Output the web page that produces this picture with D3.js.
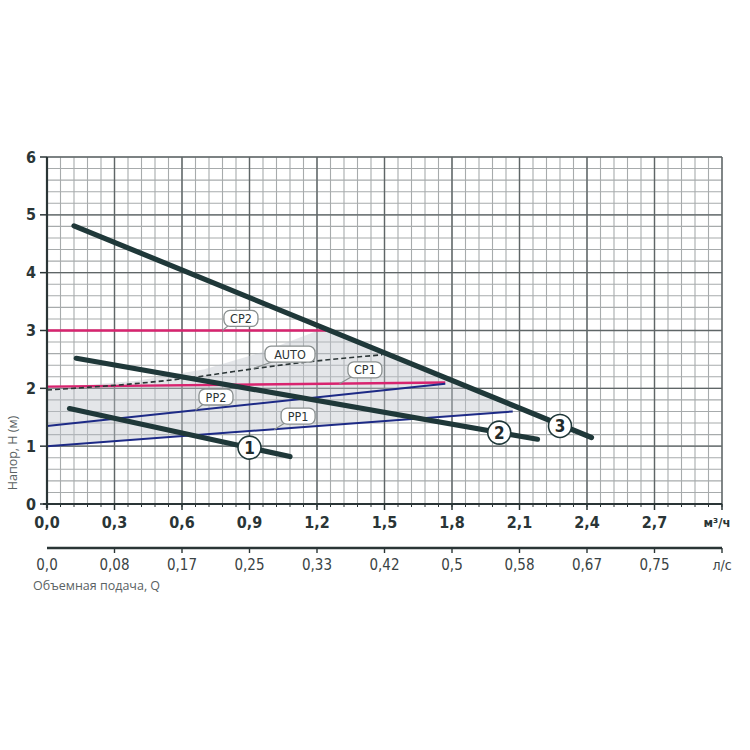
<!DOCTYPE html>
<html>
<head>
<meta charset="utf-8">
<script src="https://cdn.jsdelivr.net/npm/d3@7"></script>
<style>
  body { margin: 0; background: #fff; }
  svg { display: block; }
  .cond { font-family: "Liberation Sans Narrow", "DejaVu Sans Condensed", "Roboto", sans-serif; }
</style>
</head>
<body>
<div id="chart"></div>
<script>
// data: flow Q (m3/h) vs head H (m)
var qTicks = [0, 0.3, 0.6, 0.9, 1.2, 1.5, 1.8, 2.1, 2.4, 2.7];
var qLabels = ['0,0', '0,3', '0,6', '0,9', '1,2', '1,5', '1,8', '2,1', '2,4', '2,7'];
var lsLabels = ['0,0', '0,08', '0,17', '0,25', '0,33', '0,42', '0,5', '0,58', '0,67', '0,75'];
var hTicks = [0, 1, 2, 3, 4, 5, 6];

var curve1 = [[0.10, 1.65], [1.08, 0.82]];
var curve2 = [[0.13, 2.52], [2.18, 1.12]];
var curve3 = [[0.12, 4.81], [2.42, 1.15]];
var cp2 = [[0, 3.0], [1.24, 3.0]];
var cp1 = [[0, 2.03], [1.77, 2.1]];
var pp2 = [[0, 1.35], [1.77, 2.08]];
var pp1 = [[0, 1.0], [2.07, 1.6]];
var auto = [[0, 1.97], [0.67, 2.2], [0.83, 2.29], [1.12, 2.44], [1.49, 2.58]];
var zoneTop = [[0, 2.0], [0.4, 2.13], [0.7, 2.33], [0.95, 2.62], [1.24, 3.05]];
var zoneRight = [[1.24, 3.05], [2.07, 1.68]];

var tags = [
  { text: 'CP2', q: 0.862, h: 3.21, lq: 0.78, lh: 3.0 },
  { text: 'AUTO', q: 1.08, h: 2.59, lq: 0.92, lh: 2.35 },
  { text: 'CP1', q: 1.413, h: 2.32, lq: 1.30, lh: 2.08 },
  { text: 'PP2', q: 0.751, h: 1.85, lq: 0.66, lh: 1.62 },
  { text: 'PP1', q: 1.116, h: 1.52, lq: 1.01, lh: 1.29 }
];
var numbers = [
  { text: '1', q: 0.90, h: 0.975 },
  { text: '2', q: 2.01, h: 1.235 },
  { text: '3', q: 2.28, h: 1.35 }
];

(function () {
  'use strict';

  var W = 750, H = 750;
  var x = d3.scaleLinear().domain([0, 3]).range([47, 722]);
  var y = d3.scaleLinear().domain([0, 6]).range([504, 157]);

  var svg = d3.select('#chart').append('svg').attr('width', W).attr('height', H);
  var line = d3.line().x(function (d) { return x(d[0]); }).y(function (d) { return y(d[1]); });

  // grid
  var grid = svg.append('g');
  var minorQ = d3.range(0, 3.0001, 0.06), minorH = d3.range(0, 6.0001, 0.2);
  grid.selectAll('line.mq').data(minorQ).enter().append('line')
    .attr('x1', function (d) { return x(d); }).attr('x2', function (d) { return x(d); })
    .attr('y1', y(0)).attr('y2', y(6))
    .attr('stroke', '#a7abac').attr('stroke-width', 1.1);
  grid.selectAll('line.mh').data(minorH).enter().append('line')
    .attr('y1', function (d) { return y(d); }).attr('y2', function (d) { return y(d); })
    .attr('x1', x(0)).attr('x2', x(3))
    .attr('stroke', '#a7abac').attr('stroke-width', 1.1);
  grid.selectAll('line.Mq').data(qTicks.concat([3])).enter().append('line')
    .attr('x1', function (d) { return x(d); }).attr('x2', function (d) { return x(d); })
    .attr('y1', y(0)).attr('y2', y(6))
    .attr('stroke', '#5f6667').attr('stroke-width', 1.4);
  grid.selectAll('line.Mh').data(hTicks).enter().append('line')
    .attr('y1', function (d) { return y(d); }).attr('y2', function (d) { return y(d); })
    .attr('x1', x(0)).attr('x2', x(3))
    .attr('stroke', '#5f6667').attr('stroke-width', 1.4);

  // working zone
  var zone = zoneTop.concat(zoneRight.slice(1)).concat(pp1.slice().reverse());
  svg.append('path').attr('d', line(zone) + 'Z')
    .attr('fill', '#bfc4ca').attr('fill-opacity', 0.42);

  // control lines
  svg.append('path').attr('d', line(cp2)).attr('fill', 'none').attr('stroke', '#d8246f').attr('stroke-width', 2.4);
  svg.append('path').attr('d', line(cp1)).attr('fill', 'none').attr('stroke', '#d8246f').attr('stroke-width', 2.4);
  svg.append('path').attr('d', line(pp2)).attr('fill', 'none').attr('stroke', '#1d2a86').attr('stroke-width', 2);
  svg.append('path').attr('d', line(pp1)).attr('fill', 'none').attr('stroke', '#1d2a86').attr('stroke-width', 2);
  svg.append('path').attr('d', line.curve(d3.curveMonotoneX)(auto)).attr('fill', 'none')
    .attr('stroke', '#2b3536').attr('stroke-width', 1.6).attr('stroke-dasharray', '5,3');
  line.curve(d3.curveLinear);

  // pump curves
  [curve1, curve2, curve3].forEach(function (c) {
    svg.append('path').attr('d', line(c)).attr('fill', 'none')
      .attr('stroke', '#1f3839').attr('stroke-width', 5.2).attr('stroke-linecap', 'round');
  });

  // tag boxes
  var tg = svg.append('g').selectAll('g').data(tags).enter().append('g');
  tg.append('line')
    .attr('x1', function (d) { return x(d.lq); }).attr('y1', function (d) { return y(d.lh); })
    .attr('x2', function (d) { return x(d.q) - 10; }).attr('y2', function (d) { return y(d.h) + 5; })
    .attr('stroke', '#8a9090').attr('stroke-width', 1.2);
  tg.append('rect')
    .attr('x', function (d) { return x(d.q) - (d.text.length > 3 ? 25 : 17); })
    .attr('y', function (d) { return y(d.h) - 8; })
    .attr('width', function (d) { return d.text.length > 3 ? 50 : 34; })
    .attr('height', 16).attr('rx', 6)
    .attr('fill', '#fff').attr('stroke', '#8a9090').attr('stroke-width', 1.3);
  tg.append('text').attr('class', 'cond')
    .attr('x', function (d) { return x(d.q); }).attr('y', function (d) { return y(d.h) + 4.5; })
    .attr('text-anchor', 'middle').attr('font-size', 12.5).attr('fill', '#2c3435')
    .text(function (d) { return d.text; });

  // curve numbers
  var ng = svg.append('g').selectAll('g').data(numbers).enter().append('g');
  ng.append('circle')
    .attr('cx', function (d) { return x(d.q); }).attr('cy', function (d) { return y(d.h); })
    .attr('r', 11.5).attr('fill', '#fff').attr('stroke', '#1f3839').attr('stroke-width', 1.6);
  ng.append('text').attr('class', 'cond')
    .attr('x', function (d) { return x(d.q); }).attr('y', function (d) { return y(d.h) + 6; })
    .attr('text-anchor', 'middle').attr('font-size', 17).attr('font-weight', 'bold').attr('fill', '#1f2a2b')
    .text(function (d) { return d.text; });

  // axes
  var ax = svg.append('g').attr('stroke', '#2a3536');
  ax.append('line').attr('x1', x(0)).attr('x2', x(0)).attr('y1', y(0) + 4).attr('y2', y(6)).attr('stroke-width', 2.2);
  ax.append('line').attr('x1', x(0) - 4).attr('x2', x(3)).attr('y1', y(0)).attr('y2', y(0)).attr('stroke-width', 2.2);
  ax.selectAll('line.yt').data(hTicks).enter().append('line')
    .attr('x1', x(0) - 7).attr('x2', x(0)).attr('y1', function (d) { return y(d); }).attr('y2', function (d) { return y(d); })
    .attr('stroke-width', 1.5);
  ax.selectAll('line.xt').data(minorQ).enter().append('line')
    .attr('x1', function (d) { return x(d); }).attr('x2', function (d) { return x(d); })
    .attr('y1', y(0)).attr('y2', y(0) + 3).attr('stroke-width', 1);
  ax.selectAll('line.xT').data(qTicks.concat([3])).enter().append('line')
    .attr('x1', function (d) { return x(d); }).attr('x2', function (d) { return x(d); })
    .attr('y1', y(0)).attr('y2', y(0) + 6).attr('stroke-width', 1.5);

  svg.append('g').selectAll('text').data(hTicks).enter().append('text').attr('class', 'cond')
    .attr('x', 36).attr('y', function (d) { return y(d) + 5.5; })
    .attr('text-anchor', 'end').attr('font-size', 16).attr('font-weight', 'bold').attr('fill', '#2a3536')
    .text(function (d) { return d; });
  svg.append('g').selectAll('text').data(qTicks).enter().append('text').attr('class', 'cond')
    .attr('x', function (d) { return x(d); }).attr('y', 528)
    .attr('text-anchor', 'middle').attr('font-size', 16).attr('font-weight', 'bold').attr('fill', '#2a3536')
    .text(function (d, i) { return qLabels[i]; });
  svg.append('text').attr('class', 'cond').attr('x', 717).attr('y', 527)
    .attr('text-anchor', 'middle').attr('font-size', 13).attr('font-weight', 'bold').attr('fill', '#2a3536')
    .text('м³/ч');

  // second axis, l/s
  var ls = svg.append('g').attr('stroke', '#2a3536');
  ls.append('line').attr('x1', x(0)).attr('x2', x(3)).attr('y1', 548).attr('y2', 548).attr('stroke-width', 2.4);
  ls.selectAll('line').data(qTicks.concat([3])).enter().append('line')
    .attr('x1', function (d) { return x(d); }).attr('x2', function (d) { return x(d); })
    .attr('y1', 548).attr('y2', 553).attr('stroke-width', 1.4);
  svg.append('g').selectAll('text').data(qTicks).enter().append('text').attr('class', 'cond')
    .attr('x', function (d) { return x(d); }).attr('y', 570)
    .attr('text-anchor', 'middle').attr('font-size', 15).attr('fill', '#3a4344')
    .text(function (d, i) { return lsLabels[i]; });
  svg.append('text').attr('class', 'cond').attr('x', 722).attr('y', 570)
    .attr('text-anchor', 'middle').attr('font-size', 14).attr('fill', '#3a4344')
    .text('л/с');

  // titles
  svg.append('text').attr('transform', 'translate(17,453) rotate(-90)')
    .attr('text-anchor', 'middle').attr('font-family', '"Open Sans", sans-serif')
    .attr('font-size', 12.5).attr('fill', '#5a6263')
    .text('Напор, Н (м)');
  svg.append('text').attr('x', 33).attr('y', 590)
    .attr('font-family', '"Open Sans", sans-serif').attr('font-size', 12.5).attr('fill', '#5a6263')
    .text('Объемная подача, Q');
})();
</script>
</body>
</html>
